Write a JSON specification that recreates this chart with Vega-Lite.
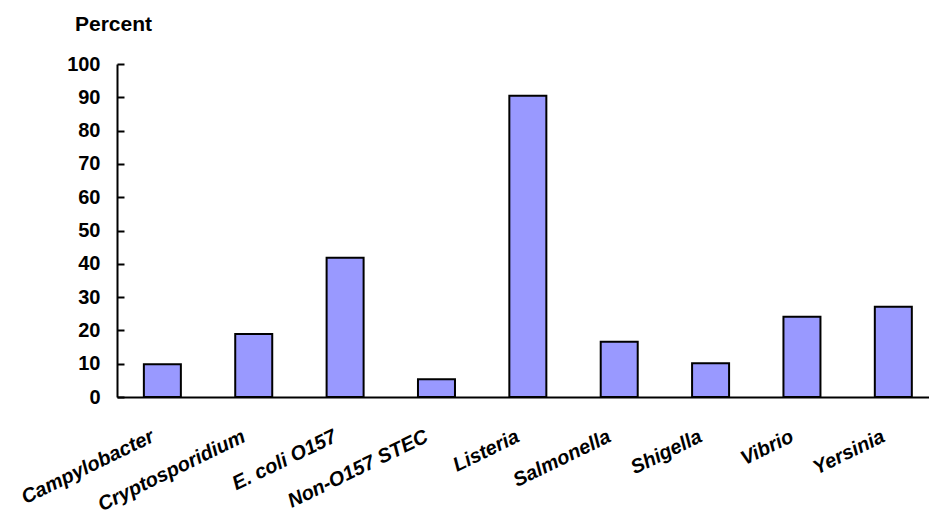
{
  "$schema": "https://vega.github.io/schema/vega-lite/v6.json",
  "autosize": {"type": "none"},
  "width": 812,
  "height": 333,
  "padding": {"left": 117, "top": 64, "right": 0, "bottom": 116},
  "background": "white",
  "config": {"view": {"stroke": null}, "font": "Liberation Sans"},
  "data": {"values": [
    {"pathogen": "Campylobacter", "percent": 9.8},
    {"pathogen": "Cryptosporidium", "percent": 18.9},
    {"pathogen": "E. coli O157", "percent": 41.8},
    {"pathogen": "Non-O157 STEC", "percent": 5.3},
    {"pathogen": "Listeria", "percent": 90.5},
    {"pathogen": "Salmonella", "percent": 16.6},
    {"pathogen": "Shigella", "percent": 10.1},
    {"pathogen": "Vibrio", "percent": 24.1},
    {"pathogen": "Yersinia", "percent": 27.1}
  ]},
  "mark": {"type": "bar", "fill": "#9999FF", "stroke": "black", "strokeWidth": 2},
  "encoding": {
    "x": {
      "field": "pathogen", "type": "nominal", "sort": null,
      "scale": {"paddingInner": 0.595, "paddingOuter": 0.241, "align": 0.61},
      "axis": {
        "title": null, "ticks": false, "domainColor": "black", "domainWidth": 2,
        "labelAngle": -26, "labelAlign": "right", "labelBaseline": "top",
        "labelFont": "Liberation Sans", "labelFontSize": 20, "labelFontWeight": "bold",
        "labelFontStyle": "italic", "labelColor": "black", "labelPadding": 29, "labelOffset": -14,
        "labelOverlap": false, "labelLimit": 300
      }
    },
    "y": {
      "field": "percent", "type": "quantitative",
      "scale": {"domain": [0, 100], "nice": false},
      "axis": {
        "values": [0,10,20,30,40,50,60,70,80,90,100],
        "grid": false, "domainColor": "black", "domainWidth": 2,
        "tickColor": "black", "tickWidth": 2, "tickSize": -7,
        "labelFont": "Liberation Sans", "labelFontSize": 20, "labelFontWeight": "bold",
        "labelColor": "black", "labelPadding": 24,
        "title": "Percent", "titleAngle": 0, "titleAlign": "center", "titleBaseline": "alphabetic",
        "titleX": -4, "titleY": -34, "titleFont": "Liberation Sans", "titleFontSize": 21,
        "titleFontWeight": "bold", "titleColor": "black"
      }
    }
  }
}
